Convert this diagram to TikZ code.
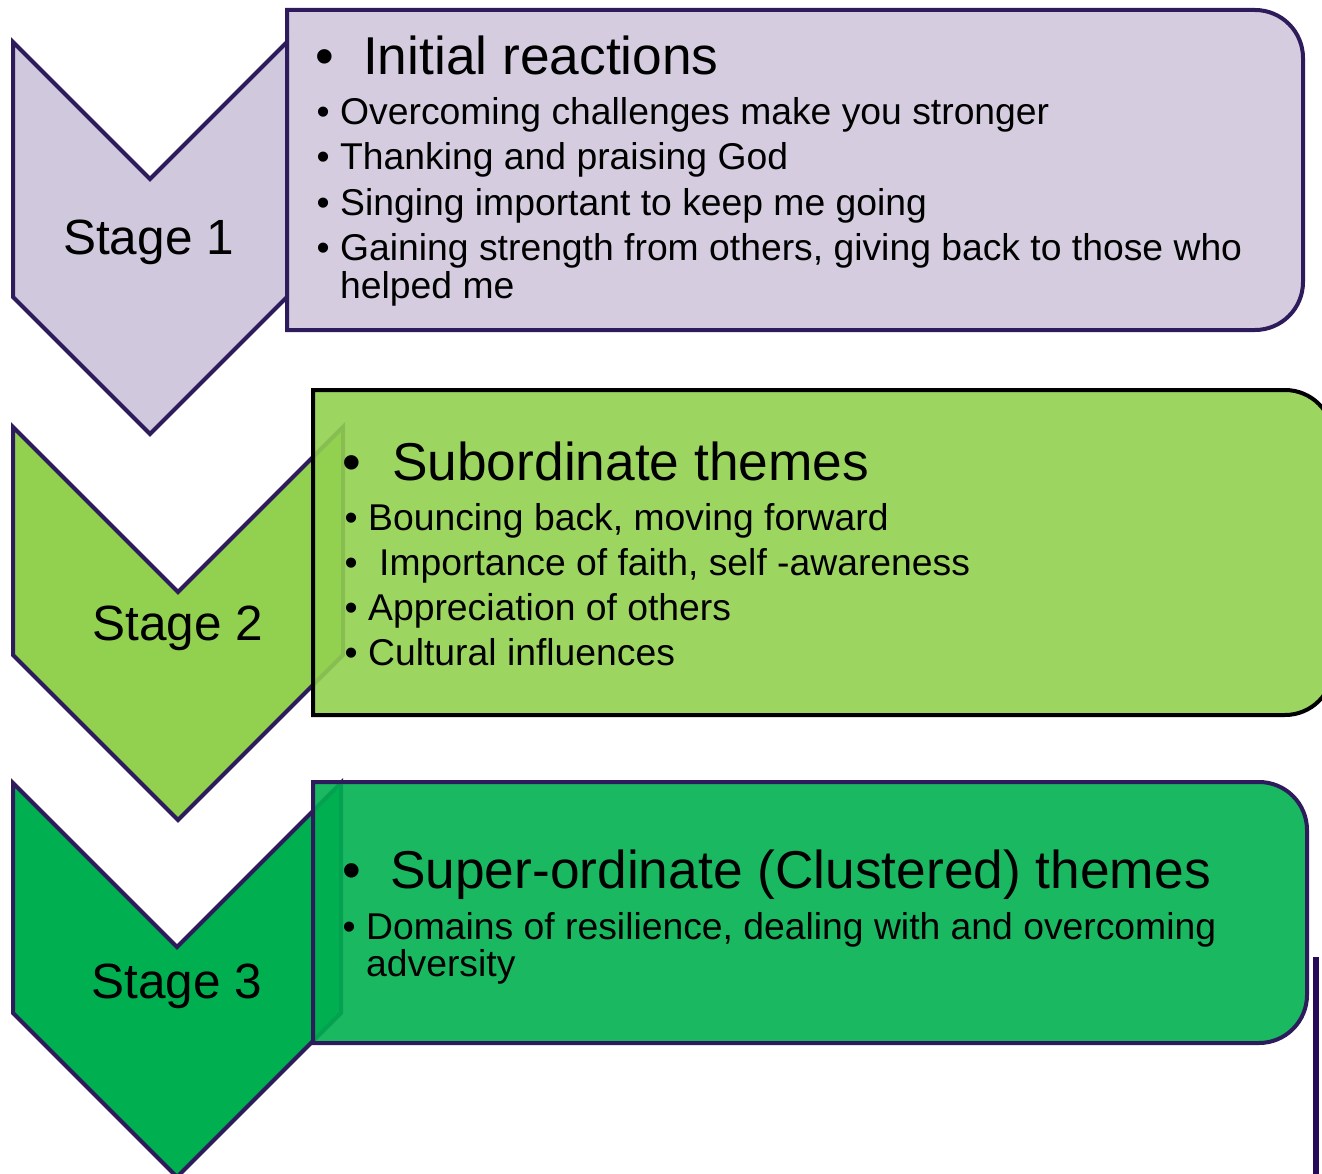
\documentclass[tikz,border=0pt]{standalone}
\usepackage{fontspec}
\setmainfont{Liberation Sans}
\definecolor{outl}{RGB}{46,27,91}
\definecolor{lav}{RGB}{208,200,220}
\definecolor{lgreen}{RGB}{146,208,80}
\definecolor{dgreen}{RGB}{0,176,80}
\definecolor{strayline}{RGB}{40,10,90}
\newcommand\stagefont{\fontsize{49.5}{56}\selectfont}
\newcommand\headfont{\fontsize{53.3}{60}\selectfont}
\newcommand\bodyfont{\fontsize{37.3}{45}\selectfont}
\newcommand\hbul[1]{\llap{\makebox[0pt]{•}\hspace*{#1pt}}}
\begin{document}
\begin{tikzpicture}[x=1pt,y=1pt,
  chev/.style={draw=outl, line width=4pt},
  boxst/.style={line width=4pt, fill opacity=0.9},
  stagelbl/.style={anchor=base, inner sep=0pt, font=\stagefont},
  head/.style={anchor=base west, inner sep=0pt, font=\headfont},
  item/.style={anchor=base west, inner sep=0pt, font=\bodyfont}]
\useasboundingbox (0,0) rectangle (1322,-1174);
\clip (0,0) rectangle (1322,-1174);
% chevrons
\draw[chev, fill=lav] (13,-42) -- (150,-179) -- (287,-42) -- (287,-297) -- (150,-434) -- (13,-297) -- cycle;
\draw[chev, fill=lgreen] (13,-427) -- (178,-592) -- (343,-427) -- (343,-655) -- (178,-820) -- (13,-655) -- cycle;
\draw[chev, fill=dgreen] (13,-783) -- (177,-947) -- (341,-783) -- (341,-1013) -- (177,-1177) -- (13,-1013) -- cycle;
% boxes
\draw[boxst, draw=outl, fill=lav] (287,-10) -- (1255,-10) arc[start angle=90, end angle=0, radius=48] -- (1303,-282) arc[start angle=0, end angle=-90, radius=48] -- (287,-330) -- cycle;
\draw[boxst, draw=black, fill=lgreen] (313,-390) -- (1285,-390) arc[start angle=90, end angle=0, radius=48] -- (1333,-667) arc[start angle=0, end angle=-90, radius=48] -- (313,-715) -- cycle;
\draw[boxst, draw=outl, fill=dgreen] (313,-782) -- (1259,-782) arc[start angle=90, end angle=0, radius=48] -- (1307,-995) arc[start angle=0, end angle=-90, radius=48] -- (313,-1043) -- cycle;
% stray line
\draw[strayline, line width=6pt] (1316,-957) -- (1316,-1174);
% stage labels
\node[stagelbl] (s1) at (148.5,-255) {Stage 1};
\node[stagelbl] (s2) at (178,-640) {Stage 2};
\node[stagelbl] (s3) at (177,-998) {Stage 3};
% box 1
\node[head] (h1) at (363,-75) {\hbul{38}Initial reactions};
\node[item] (a1) at (340,-125) {\hbul{17}Overcoming challenges make you stronger};
\node[item] (a2) at (340,-170) {\hbul{17}Thanking and praising God};
\node[item] (a3) at (340,-216) {\hbul{17}Singing important to keep me going};
\node[item] (a4) at (340,-261) {\vtop{\baselineskip=38pt\hbox{\hbul{17}Gaining strength from others, giving back to those who}\hbox{helped me}}};
% box 2
\node[head] (h2) at (392,-480) {\hbul{40}Subordinate themes};
\node[item] (b1) at (368,-530) {\hbul{17}Bouncing back, moving forward};
\node[item] (b2) at (379,-575) {\hbul{28}Importance of faith, self -awareness};
\node[item] (b3) at (368,-620) {\hbul{17}Appreciation of others};
\node[item] (b4) at (368,-665) {\hbul{17}Cultural influences};
% box 3
\node[head] (h3) at (390,-888) {\hbul{38}Super-ordinate (Clustered) themes};
\node[item] (c1) at (366,-939) {\vtop{\baselineskip=37pt\hbox{\hbul{17}Domains of resilience, dealing with and overcoming}\hbox{adversity}}};
\end{tikzpicture}
\end{document}
